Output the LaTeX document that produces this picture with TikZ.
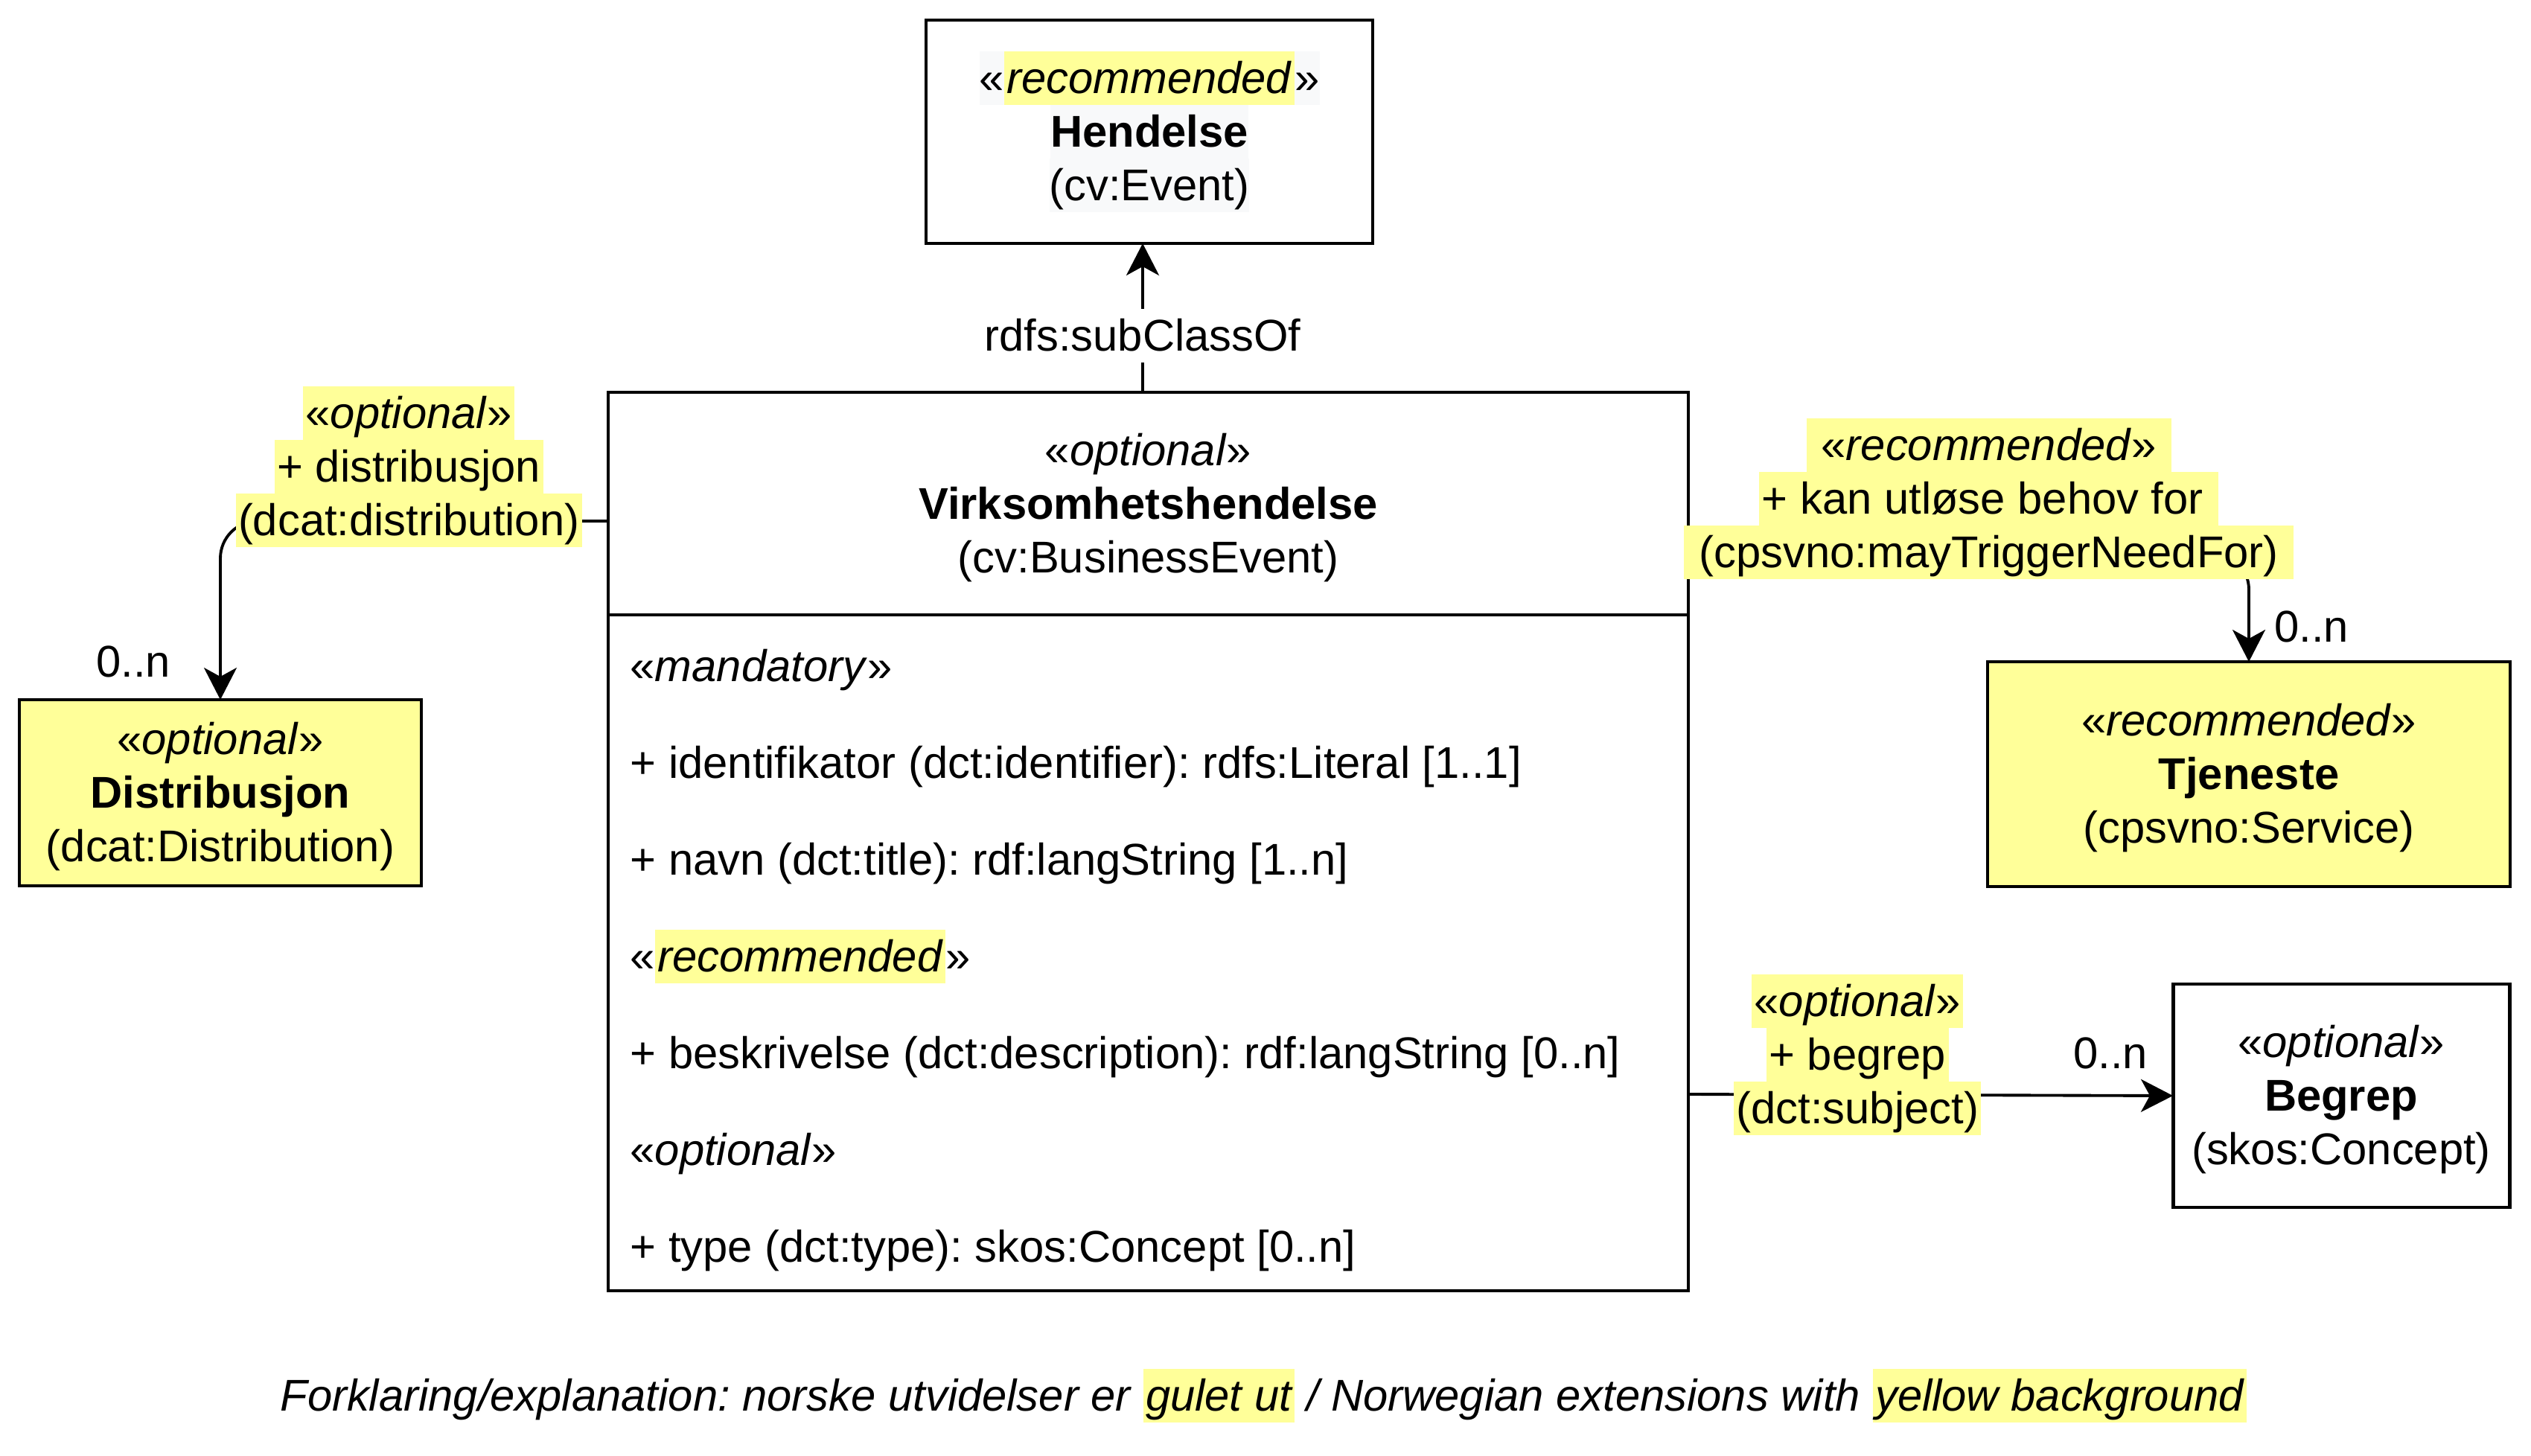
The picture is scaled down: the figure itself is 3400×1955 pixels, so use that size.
\documentclass[tikz,border=0pt]{standalone}
\usepackage{fontspec}
\setmainfont{Liberation Sans}
\usetikzlibrary{arrows.meta,positioning}

\definecolor{hlyellow}{HTML}{FFFF99}
\definecolor{hlgrey}{HTML}{F8F9FA}
\newcommand{\lstrut}{\rule[-4.3pt]{0pt}{20.4pt}}
\newcommand{\hl}[1]{{\setlength{\fboxsep}{0pt}\colorbox{hlyellow}{\lstrut\kern1pt#1\kern1pt}}}
\newcommand{\gr}[1]{{\setlength{\fboxsep}{0pt}\colorbox{hlgrey}{\lstrut#1}}}
\frenchspacing

\begin{document}
\begin{tikzpicture}[
    x=0.1mm, y=-0.1mm,
    font=\fontsize{17pt}{20.5pt}\selectfont\frenchspacing,
    cls/.style={rectangle, draw, line width=1.4pt, outer sep=0pt, inner sep=0pt, align=center},
    attr/.style={inner sep=0pt, anchor=west, execute at begin node=\lstrut},
    elabel/.style={inner sep=0pt, align=center},
    mult/.style={inner sep=0pt, execute at begin node=\lstrut},
    arrow/.style={line width=1.1pt, -{Stealth[length=4.3mm, width=4.4mm, inset=1.2mm]}}
]
\useasboundingbox (0,0) rectangle (3400,1955);

% Main class with its attribute compartment
\node[cls, minimum width=145.1mm, minimum height=29.9mm] (hdr) at (1542.5,676.5)
    {\lstrut«\textit{optional}»\\\textbf{Virksomhetshendelse}\\(cv:BusinessEvent)\lstrut};
\node[cls, minimum width=145.1mm, minimum height=90.8mm, below=0pt of hdr] (attrs) {};

% Related classes
\node[cls, minimum width=60mm, minimum height=30mm] (hendelse) at (1544,177)
    {\gr{«\hl{\textit{recommended}}»}\\\gr{\textbf{Hendelse}}\\\gr{(cv:Event)}};
\node[cls, fill=hlyellow, minimum width=54mm, minimum height=25mm] (dist) at (296,1065)
    {\lstrut«\textit{optional}»\\\textbf{Distribusjon}\\(dcat:Distribution)\lstrut};
\node[cls, fill=hlyellow, minimum width=70.2mm, minimum height=30.2mm] (tjeneste) at (3021,1040)
    {\lstrut«\textit{recommended}»\\\textbf{Tjeneste}\\(cpsvno:Service)\lstrut};
\node[cls, minimum width=45.2mm, minimum height=30mm] (begrep) at (3145,1472)
    {\lstrut«\textit{optional}»\\\textbf{Begrep}\\(skos:Concept)\lstrut};

% Attributes
\foreach \txt [count=\i from 0] in {
    {«\textit{mandatory}»},
    {+ identifikator (dct:identifier): rdfs:Literal [1..1]},
    {+ navn (dct:title): rdf:langString [1..n]},
    {«\hl{\textit{recommended}}»},
    {+ beskrivelse (dct:description): rdf:langString [0..n]},
    {«\textit{optional}»},
    {+ type (dct:type): skos:Concept [0..n]}}
  \node[attr] (attr\i) at ([xshift=2.9mm, yshift={-(6.9+13*\i)*1mm}]attrs.north west) {\txt};

% Subclass relation
\draw[arrow] ([xshift=-0.75mm]hdr.north) -- ([xshift=-0.9mm]hendelse.south)
    node[pos=0.38, fill=white, inner sep=0pt] (subcls) {\lstrut rdfs:subClassOf};

% Associations
\draw[arrow, rounded corners=5mm] ([yshift=-2.35mm]hdr.west) -| (dist.north)
    node[elabel, pos=0.257, yshift=7.3mm] (distlbl)
    {\hl{«\textit{optional}»}\\\hl{+ distribusjon}\\\hl{(dcat:distribution)}};
\draw[arrow, rounded corners=5mm] ([yshift=-6.55mm]hdr.east) -| (tjeneste.north)
    node[elabel, pos=0.268, yshift=7.2mm] (tjenlbl)
    {\hl{\ «\textit{recommended}»\ }\\\hl{+ kan utløse behov for\ }\\\hl{\ (cpsvno:mayTriggerNeedFor)\ }};
\draw[arrow] ([yshift=-19mm]attrs.east) -- (begrep.west)
    node[elabel, pos=0.349, yshift=5.4mm] (begreplbl)
    {\hl{«\textit{optional}»}\\\hl{+ begrep}\\\hl{(dct:subject)}};

% Multiplicities
\node[mult] (mdist) at ([xshift=-11.7mm, yshift=5.1mm]dist.north) {0..n};
\node[mult] (mtjen) at ([xshift=8.4mm, yshift=4.7mm]tjeneste.north) {0..n};
\node[mult] (mbegrep) at ([xshift=-8.4mm, yshift=5.7mm]begrep.west) {0..n};

% Legend
\node[inner sep=0pt] (legend) at (1697,1875)
    {\textit{Forklaring/explanation: norske utvidelser er \hl{gulet ut} / Norwegian extensions with \hl{yellow background}}};

\end{tikzpicture}
\end{document}
